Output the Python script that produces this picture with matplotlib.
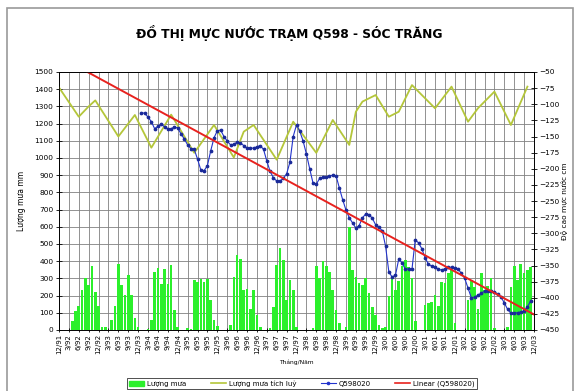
import numpy as np
import matplotlib.pyplot as plt
from matplotlib.patches import Patch, Rectangle
from matplotlib.lines import Line2D

plt.rcParams['font.family'] = ['DejaVu Sans']

# lượng mưa tháng (mm), từ 12/1991 đến 12/2003
mua_1991 = [0]  # chỉ tháng 12
mua_1992 = [0, 0, 0, 50, 110, 140, 230, 300, 260, 370, 220, 140]
mua_1993 = [15, 15, 0, 60, 140, 385, 260, 205, 320, 205, 70, 15]
mua_1994 = [0, 0, 5, 60, 340, 360, 265, 355, 265, 380, 115, 15]
mua_1995 = [0, 0, 10, 5, 290, 280, 295, 280, 295, 175, 60, 25]
mua_1996 = [0, 0, 0, 30, 310, 435, 410, 235, 240, 125, 230, 85]
mua_1997 = [20, 0, 0, 10, 135, 380, 475, 405, 175, 290, 235, 20]
mua_1998 = [0, 0, 0, 0, 10, 370, 300, 400, 370, 340, 230, 115]
mua_1999 = [40, 0, 20, 600, 350, 310, 275, 260, 300, 215, 135, 85]
mua_2000 = [30, 10, 20, 195, 300, 235, 285, 370, 405, 365, 300, 55]
mua_2001 = [0, 0, 145, 155, 165, 205, 140, 280, 275, 330, 350, 40]
mua_2002 = [0, 0, 0, 175, 290, 250, 120, 330, 235, 255, 300, 10]
mua_2003 = [0, 0, 0, 15, 250, 370, 290, 385, 330, 350, 365, 0]

# lượng mưa tích luỹ: (tháng thứ, mm)
tichluy_thang = [0, 6, 9, 11, 18, 23, 28, 34, 41, 47, 53, 56, 59, 66, 71, 78,
                 83, 88, 90, 92, 96, 100, 103, 107, 114, 119, 124, 127, 132, 137, 142]
tichluy_mm = [1410, 1240, 1300, 1335, 1125, 1250, 1060, 1252, 1030, 1192, 1003, 1153,
              1192, 990, 1211, 1030, 1221, 1076, 1269, 1328, 1366, 1240, 1269, 1424,
              1289, 1415, 1211, 1289, 1386, 1192, 1415]

# mực nước giếng Q598020 (cm), bắt đầu từ tháng thứ 25 (1/1994)
q_batdau = 25
q598020 = [-113, -114, -120, -127, -138, -134, -131, -135, -138, -138,
           -135, -137, -146, -154, -163, -169, -170, -185, -202, -203,
           -195, -172, -152, -141, -140, -150, -157, -163, -162, -159,
           -160, -164, -168, -168, -168, -166, -164, -170, -188, -204,
           -214, -219, -219, -215, -208, -190, -150, -132, -142, -157,
           -177, -200, -222, -224, -215, -213, -213, -211, -210, -211,
           -230, -248, -264, -276, -284, -292, -288, -276, -270, -271,
           -277, -287, -291, -296, -320, -360, -368, -365, -340, -346,
           -356, -355, -356, -310, -315, -324, -338, -348, -351, -353,
           -356, -357, -355, -352, -353, -354, -356, -362, -370, -385,
           -400, -399, -396, -393, -390, -389, -390, -391, -394, -399,
           -408, -418, -424, -424, -423, -422, -420, -414, -405]

mua = np.array(mua_1991 + mua_1992 + mua_1993 + mua_1994 + mua_1995 + mua_1996 +
               mua_1997 + mua_1998 + mua_1999 + mua_2000 + mua_2001 + mua_2002 + mua_2003)
thang = np.arange(len(mua))
nhan_thang = [f"{(11 + m) % 12 + 1}/{(91 + (11 + m) // 12) % 100:02d}" for m in thang]

q_thang = np.arange(q_batdau, q_batdau + len(q598020))
q_val = np.array(q598020)
# đường xu thế tuyến tính
he_so = np.polyfit(q_thang, q_val, 1)
xu_the = np.polyval(he_so, thang)

fig = plt.figure(figsize=(5.75, 3.91), dpi=100)
fig.patches.append(Rectangle((7 / 575, -0.05), 566 / 575, 1 - 8 / 391 + 0.05,
                             transform=fig.transFigure, fill=False,
                             edgecolor='#9a9a9a', linewidth=1.2))
ax = fig.add_axes([59 / 575, 1 - 330 / 391, 475 / 575, 258 / 391])
ax2 = ax.twinx()

ax.bar(thang, mua, width=0.8, color='#2bf02b', zorder=2)
ax.plot(tichluy_thang, tichluy_mm, color='#b4c63a', lw=1.3, zorder=3)

ax2.plot(q_thang, q_val, color='#2233cc', lw=0.8, marker='o', ms=1.7,
         mfc='#1a2a99', mec='#1a2a99')
ax2.plot(thang, xu_the, color='#e8221e', lw=1.4)

ax.set_xlim(0, len(mua) - 1)
ax.set_ylim(0, 1500)
ax.set_yticks(np.arange(0, 1501, 100))
ax2.set_ylim(-450, -50)
ax2.set_yticks(np.arange(-450, -49, 25))
ax.set_xticks(thang[::3])
ax.set_xticklabels(nhan_thang[::3], rotation=90, fontsize=5)
ax.tick_params(axis='y', labelsize=5.3, direction='inout', length=4, width=0.6, pad=2)
ax2.tick_params(axis='y', labelsize=5.3, direction='inout', length=4, width=0.6, pad=1.5)
ax.tick_params(axis='x', direction='inout', length=3, width=0.6, pad=1.5)
ax.grid(True, color='#808080', lw=0.6, zorder=0)
ax.set_axisbelow(True)
for a in (ax, ax2):
    for s in a.spines.values():
        s.set_linewidth(0.6)

ax.set_ylabel('Lượng mưa mm', fontsize=5.5, labelpad=6)
ax2.set_ylabel('Độ cao mực nước cm', fontsize=5.3, labelpad=1)
ax.set_xlabel('Tháng/Năm', fontsize=4.3, labelpad=4)
fig.text(0.503, 1 - 33 / 391, 'ĐỒ THỊ MỰC NƯỚC TRẠM Q598 - SÓC TRĂNG',
         ha='center', va='center', fontsize=8.8, fontweight='bold')

handles = [Patch(color='#2bf02b'),
           Line2D([], [], color='#b4c63a', lw=1.2),
           Line2D([], [], color='#2233cc', lw=0.8, marker='o', ms=1.6),
           Line2D([], [], color='#e8221e', lw=1.2)]
labels = ['Lượng mưa', 'Lượng mưa tích luỹ', 'Q598020', 'Linear (Q598020)']
leg = fig.legend(handles, labels, loc='lower center', bbox_to_anchor=(0.525, -0.005),
                 ncol=4, fontsize=5, frameon=True, fancybox=False, edgecolor='black',
                 handlelength=2.2, columnspacing=3.5, borderpad=0.3, handletextpad=0.4)
leg.get_frame().set_linewidth(0.6)

fig.savefig('out.png', dpi=100)
